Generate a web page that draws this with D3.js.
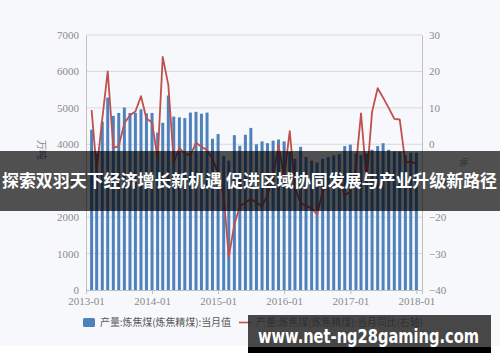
<!DOCTYPE html>
<html>
<head>
<meta charset="utf-8">
<script src="https://cdn.jsdelivr.net/npm/d3@7"></script>
<style>
    html, body { margin: 0; padding: 0; background: #ffffff; }
    svg { display: block; }
</style>
</head>
<body>
<div id="chart"></div>
<script>
const months = [
    "2013-02","2013-03","2013-04","2013-05","2013-06","2013-07","2013-08","2013-09","2013-10","2013-11","2013-12",
    "2014-01","2014-02","2014-03","2014-04","2014-05","2014-06","2014-07","2014-08","2014-09","2014-10","2014-11","2014-12",
    "2015-01","2015-02","2015-03","2015-04","2015-05","2015-06","2015-07","2015-08","2015-09","2015-10","2015-11","2015-12",
    "2016-01","2016-02","2016-03","2016-04","2016-05","2016-06","2016-07","2016-08","2016-09","2016-10","2016-11","2016-12",
    "2017-01","2017-02","2017-03","2017-04","2017-05","2017-06","2017-07","2017-08","2017-09","2017-10","2017-11","2017-12",
    "2018-01"
]
// 当月值 (万吨)
const output = [
    4400, 3750, 4620, 5280, 4780, 4860, 5010, 4860, 4860, 4960, 4850,
    4860, 4320, 4590, 5340, 4760, 4740, 4720, 4870, 4890, 4840, 4870, 4150,
    4280, 3680, 3550, 4250, 3960, 4260, 4450, 4000, 4080, 4030, 4100, 4130,
    4080, 3790, 3600, 3930, 3650, 3550, 3500, 3600, 3650, 3700, 3730, 3950,
    3990, 3750, 3700, 3750, 3850, 3950, 4030, 3850, 3800, 3800, 3700, 3770,
    3770
]
// 当月同比 (%)
const yoy = [
    9.4, -7, 7, 20, -1, -0.5, 5.8, 8, 9, 13.2, 7.1,
    6, -4, 24, 16.3, -5, -1, -2.6, -3, 0.4, -0.7, -1.6, -4,
    -8, -14, -31, -22, -17, -16, -15, -16, -17, -14, -9, -0.3,
    -9, 3.6, -12, -16, -17, -17.5, -19.3, -13, -11, -12, -9, -14,
    -13, -6, 8.5, -10, 8.9, 15.4, 12.8, 10, 7, 6.8, -5, -4.8,
    -5.3
]
const leftTicks = [0, 1000, 2000, 3000, 4000, 5000, 6000, 7000]
const rightTicks = [-40, -30, -20, -10, 0, 10, 20, 30]
const yearTicks = ["2013-01", "2014-01", "2015-01", "2016-01", "2017-01", "2018-01"]
const legendNames = ["产量:炼焦煤(炼焦精煤):当月值", "产量:炼焦煤(炼焦精煤):当月同比(右轴)"]
const bannerText = "探索双羽天下经济增长新机遇 促进区域协同发展与产业升级新路径"
const watermark = "www.net-ng28gaming.com"

const width = 500
const height = 362
const parse = d3.timeParse("%Y-%m")
const blue = "#4f81bd"
const red = "#c0504d"
const tickFont = "'Liberation Serif', 'DejaVu Serif', serif"
const cjkFont = "'Noto Sans CJK SC', sans-serif"

const data = months.map((m, i) => ({date: parse(m), value: output[i], pct: yoy[i]}))

const x = d3.scaleTime()
    .domain([parse("2013-01"), parse("2018-02")])
    .range([86, 422])
const y = d3.scaleLinear().domain([0, 7000]).range([290, 35])
const y2 = d3.scaleLinear().domain([-40, 30]).range([290, 35])

const svg = d3.select("#chart")
    .append("svg")
    .attr("width", width)
    .attr("height", height)

svg.append("rect")
    .attr("x", 0).attr("y", 0)
    .attr("width", width).attr("height", 346)
    .attr("fill", "#f7f8fb")

// grid
svg.append("g")
    .selectAll("line")
    .data(leftTicks.slice(1))
    .join("line")
    .attr("x1", 86).attr("x2", 422)
    .attr("y1", d => y(d)).attr("y2", d => y(d))
    .attr("stroke", "#d9d9d9")
    .attr("stroke-width", 1)

// bars
svg.append("g")
    .selectAll("rect")
    .data(data)
    .join("rect")
    .attr("x", d => x(d.date) - 1.5)
    .attr("y", d => y(d.value))
    .attr("width", 3)
    .attr("height", d => y(0) - y(d.value))
    .attr("fill", blue)

// line
const line = d3.line()
    .x(d => x(d.date))
    .y(d => y2(d.pct))
svg.append("path")
    .datum(data)
    .attr("d", line)
    .attr("fill", "none")
    .attr("stroke", red)
    .attr("stroke-width", 1.8)
    .attr("stroke-linejoin", "round")

// axes
const axisLeft = svg.append("g")
    .attr("transform", "translate(86,0)")
    .call(d3.axisLeft(y).tickValues(leftTicks).tickFormat(d3.format("d")).tickSize(0).tickPadding(7))
const axisRight = svg.append("g")
    .attr("transform", "translate(422,0)")
    .call(d3.axisRight(y2).tickValues(rightTicks).tickFormat(d3.format("d")).tickSize(0).tickPadding(7))
const axisBottom = svg.append("g")
    .attr("transform", "translate(0,290)")
    .call(d3.axisBottom(x).tickValues(yearTicks.map(parse)).tickFormat(d3.timeFormat("%Y-%m")).tickSize(4).tickPadding(3))

for (const ax of [axisLeft, axisRight, axisBottom]) {
    ax.select(".domain").attr("stroke", "#bfbfbf")
    ax.selectAll(".tick line").attr("stroke", "#bfbfbf")
    ax.selectAll("text")
        .attr("fill", "#8a8a8a")
        .style("font-family", tickFont)
        .style("font-size", "11px")
}

svg.append("text")
    .attr("transform", "translate(38,150) rotate(90)")
    .attr("text-anchor", "middle")
    .attr("fill", "#8a8a8a")
    .style("font-family", cjkFont)
    .style("font-size", "10px")
    .text("万吨")
svg.append("text")
    .attr("transform", "translate(460,162) rotate(90)")
    .attr("text-anchor", "middle")
    .attr("fill", "#8a8a8a")
    .style("font-family", cjkFont)
    .style("font-size", "10px")
    .text("%")

// legend
const legend = svg.append("g")
legend.append("rect")
    .attr("x", 83).attr("y", 318)
    .attr("width", 12).attr("height", 9)
    .attr("rx", 1.5)
    .attr("fill", blue)
legend.append("text")
    .attr("x", 100).attr("y", 326)
    .attr("fill", "#595959")
    .style("font-family", cjkFont)
    .style("font-size", "10px")
    .attr("textLength", 131)
    .text(legendNames[0])
legend.append("line")
    .attr("x1", 239).attr("x2", 251)
    .attr("y1", 322.5).attr("y2", 322.5)
    .attr("stroke", red)
    .attr("stroke-width", 1.6)
legend.append("text")
    .attr("x", 256).attr("y", 326)
    .attr("fill", "#595959")
    .style("font-family", cjkFont)
    .style("font-size", "10px")
    .attr("textLength", 167)
    .text(legendNames[1])

// overlay banner
svg.append("rect")
    .attr("x", 0).attr("y", 151)
    .attr("width", width).attr("height", 60)
    .attr("fill", "rgba(0,0,0,0.68)")
svg.append("text")
    .attr("x", 2).attr("y", 187)
    .attr("fill", "#ffffff")
    .style("font-family", cjkFont)
    .style("font-size", "17px")
    .style("font-weight", "bold")
    .attr("textLength", 495)
    .attr("lengthAdjust", "spacingAndGlyphs")
    .text(bannerText)

// watermark
svg.append("rect")
    .attr("x", 248).attr("y", 315)
    .attr("width", 243).attr("height", 32)
    .attr("fill", "rgba(40,40,40,0.85)")
svg.append("rect")
    .attr("x", 248).attr("y", 347)
    .attr("width", 243).attr("height", 6)
    .attr("fill", "#000000")
svg.append("text")
    .attr("x", 258).attr("y", 343)
    .attr("fill", "#ffffff")
    .style("font-family", "'DejaVu Sans', sans-serif")
    .style("font-size", "19px")
    .style("font-weight", "bold")
    .attr("textLength", 221)
    .attr("lengthAdjust", "spacingAndGlyphs")
    .text(watermark)
</script>
</body>
</html>
